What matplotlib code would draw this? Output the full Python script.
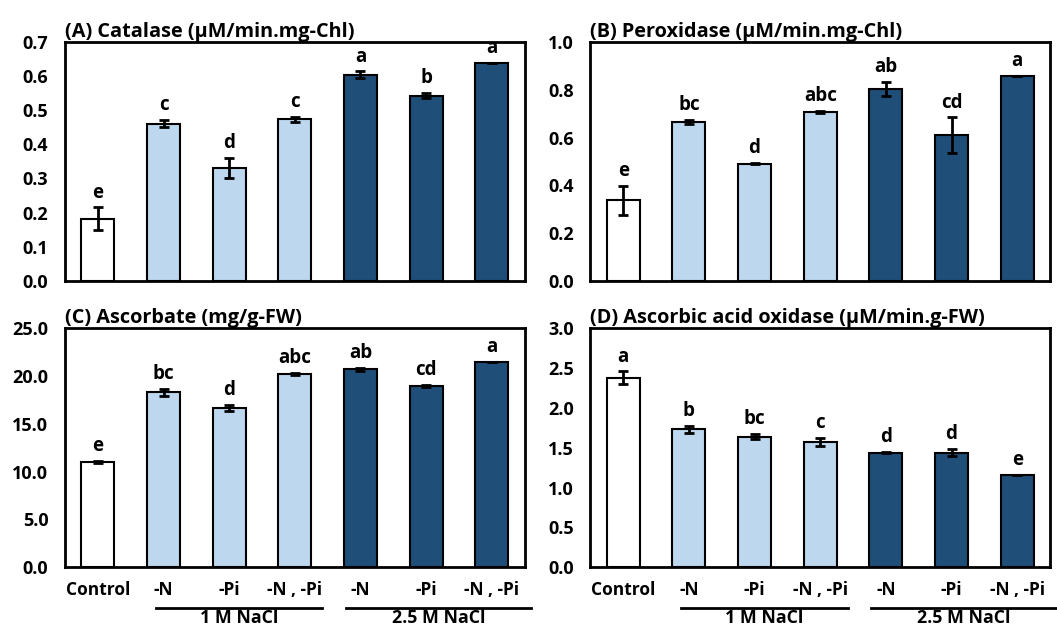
"""
Antioxidant enzyme activities under NaCl with N / Pi deficiency.
Four bar panels with error bars and significance letters.
"""

import matplotlib
matplotlib.use("Agg")
import matplotlib.pyplot as plt
import matplotlib.transforms as mtransforms

plt.rcParams["font.family"] = ["Open Sans", "DejaVu Sans"]
plt.rcParams["font.weight"] = "bold"

categories = ["Control", "-N", "-Pi", "-N , -Pi", "-N", "-Pi", "-N , -Pi"]
bar_colors = ["white", "#BDD7EE", "#BDD7EE", "#BDD7EE", "#1F4E79", "#1F4E79", "#1F4E79"]

catalase = [0.182, 0.461, 0.330, 0.474, 0.604, 0.543, 0.639]
catalase_err = [0.033, 0.010, 0.030, 0.007, 0.010, 0.008, 0.0]
catalase_letters = ["e", "c", "d", "c", "a", "b", "a"]

peroxidase = [0.337, 0.665, 0.490, 0.708, 0.804, 0.610, 0.859]
peroxidase_err = [0.060, 0.010, 0.003, 0.005, 0.030, 0.074, 0.0]
peroxidase_letters = ["e", "bc", "d", "abc", "ab", "cd", "a"]

ascorbate = [11.0, 18.3, 16.7, 20.2, 20.7, 19.0, 21.5]
ascorbate_err = [0.12, 0.35, 0.30, 0.10, 0.15, 0.10, 0.0]
ascorbate_letters = ["e", "bc", "d", "abc", "ab", "cd", "a"]

aao = [2.38, 1.73, 1.64, 1.57, 1.44, 1.44, 1.16]
aao_err = [0.08, 0.04, 0.03, 0.05, 0.01, 0.04, 0.0]
aao_letters = ["a", "b", "bc", "c", "d", "d", "e"]

panels = [
    ("(A) Catalase (μM/min.mg-Chl)", catalase, catalase_err, catalase_letters, 0.7, 0.1, "{:.1f}"),
    ("(B) Peroxidase (μM/min.mg-Chl)", peroxidase, peroxidase_err, peroxidase_letters, 1.0, 0.2, "{:.1f}"),
    ("(C) Ascorbate (mg/g-FW)", ascorbate, ascorbate_err, ascorbate_letters, 25.0, 5.0, "{:.1f}"),
    ("(D) Ascorbic acid oxidase (μM/min.g-FW)", aao, aao_err, aao_letters, 3.0, 0.5, "{:.1f}"),
]

groups = [("1 M NaCl", 0.88, 3.42), ("2.5 M NaCl", 3.78, 6.6)]


def draw_panel(ax, title, values, errs, letters, ymax, step, fmt, bottom_row):
    x = list(range(len(values)))
    ax.bar(x, values, width=0.5, color=bar_colors, edgecolor="black", linewidth=1.5, zorder=2)
    ax.errorbar(x, values, yerr=errs, fmt="none", ecolor="black", elinewidth=2,
                capsize=3.5, capthick=2, zorder=3)
    for xi, v, e, lab in zip(x, values, errs, letters):
        ax.annotate(lab, (xi, v + e), xytext=(0, 3.5), textcoords="offset points",
                    ha="center", va="bottom", fontsize=13.5, fontweight="bold")

    ax.set_xlim(-0.5, len(values) - 0.5)
    ax.set_ylim(0, ymax)
    n = int(round(ymax / step))
    ticks = [i * step for i in range(n + 1)]
    ax.set_yticks(ticks)
    ax.set_yticklabels([fmt.format(t) for t in ticks], fontsize=13, fontweight="bold")
    ax.tick_params(axis="both", length=0)
    ax.tick_params(axis="y", pad=12)
    for sp in ax.spines.values():
        sp.set_linewidth(2)

    ax.text(0, 1.0, title, transform=ax.transAxes, ha="left", va="bottom",
            fontsize=14.3, fontweight="bold")

    if bottom_row:
        ax.set_xticks(x)
        ax.set_xticklabels(categories, fontsize=12.5, fontweight="bold")
        ax.tick_params(axis="x", pad=10)
        trans = mtransforms.blended_transform_factory(ax.transData, ax.transAxes)
        for name, x0, x1 in groups:
            ax.plot([x0, x1], [-0.172, -0.172], transform=trans, color="black",
                    linewidth=2, clip_on=False)
            ax.text((x0 + x1) / 2, -0.177, name, transform=trans, ha="center", va="top",
                    fontsize=12.8, fontweight="bold")
    else:
        ax.set_xticks([])


fig, axes = plt.subplots(2, 2, figsize=(10.57, 6.28), dpi=100)
plt.subplots_adjust(left=0.0615, right=0.9934, top=0.933, bottom=0.097,
                    wspace=0.143, hspace=0.2)

for i, (ax, p) in enumerate(zip(axes.flat, panels)):
    draw_panel(ax, *p, bottom_row=(i >= 2))

fig.savefig("out.png", dpi=100)
